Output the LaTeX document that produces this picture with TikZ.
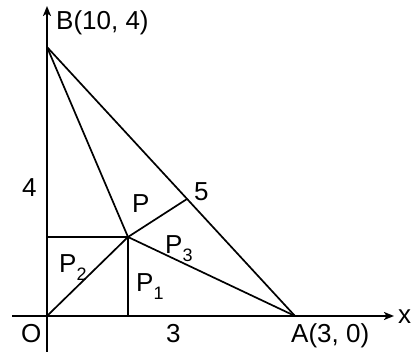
\documentclass[tikz,border=0pt]{standalone}
\usepackage{fontspec}
\setmainfont{Liberation Sans}
\usetikzlibrary{arrows.meta}
\begin{document}
\begin{tikzpicture}[x=1pt,y=-1pt,
  axis/.style={line width=2.8pt,-{Stealth[length=10pt,width=8pt,inset=2.5pt]}},
  seg/.style={line width=1.7pt},
  lbl/.style={inner sep=0pt,anchor=base west,font=\fontsize{26}{31}\selectfont}]
\useasboundingbox (0,0) rectangle (413,352);
\newcommand{\subs}[1]{\raisebox{-0.28em}{\fontsize{18}{18}\selectfont #1}}
% points
\coordinate (O) at (47,316);
\coordinate (A) at (295,316);
\coordinate (B) at (47,47);
\coordinate (P) at (128,237);
\coordinate (F) at (187,199);
\coordinate (Py) at (47,237);
\coordinate (Px) at (128,316);
\coordinate (xs) at (12,316);
\coordinate (xe) at (394,316);
\coordinate (ys) at (47,352);
\coordinate (ye) at (47,6);
% axes
\draw[axis] (xs) -- (xe);
\draw[axis] (ys) -- (ye);
% segments
\draw[seg] (B) -- (A);
\draw[seg] (B) -- (P);
\draw[seg] (P) -- (A);
\draw[seg] (O) -- (P);
\draw[seg] (P) -- (F);
\draw[seg] (Py) -- (P);
\draw[seg] (P) -- (Px);
% labels
\node[lbl] (lB) at (56,30) {B(10, 4)};
\node[lbl] (l4) at (22,197) {4};
\node[lbl] (lP) at (132,213) {P};
\node[lbl] (l5) at (194,201) {5};
\node[lbl] (lP3) at (165,254) {P\subs{3}};
\node[lbl] (lP2) at (59,273) {P\subs{2}};
\node[lbl] (lP1) at (136,292) {P\subs{1}};
\node[lbl] (lO) at (21,343) {O};
\node[lbl] (l3) at (166,343) {3};
\node[lbl] (lA) at (291,343) {A(3, 0)};
\node[lbl] (lx) at (398,324) {x};
\end{tikzpicture}
\end{document}
